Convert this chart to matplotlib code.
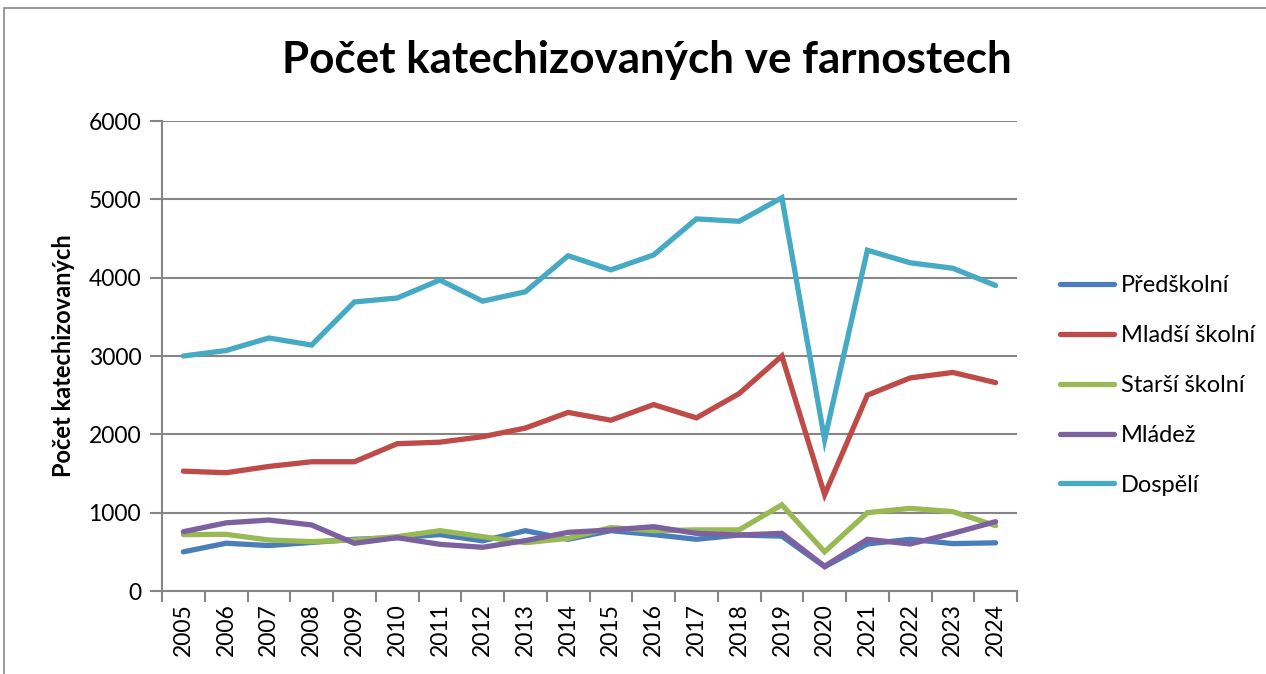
import matplotlib.pyplot as plt
from matplotlib.patches import Rectangle

years = [str(y) for y in range(2005, 2025)]
predskolni = [500, 610, 580, 620, 660, 680, 720, 640, 770, 660,
              770, 720, 660, 715, 700, 310, 600, 660, 605, 615]
mladsi_skolni = [1530, 1510, 1590, 1650, 1650, 1880, 1900, 1970, 2080, 2280,
                 2180, 2380, 2210, 2520, 3000, 1230, 2500, 2720, 2790, 2660]
starsi_skolni = [720, 723, 651, 630, 651, 694, 770, 694, 617, 672,
                 810, 770, 780, 780, 1100, 500, 1000, 1055, 1013, 834]
mladez = [757, 870, 906, 843, 609, 681, 596, 558, 643, 749,
          779, 821, 736, 715, 736, 315, 660, 600, 736, 885]
dospeli = [3000, 3070, 3230, 3140, 3690, 3740, 3970, 3700, 3820, 4280,
           4100, 4290, 4750, 4720, 5020, 1930, 4350, 4190, 4120, 3900]

series = [
    ("Předškolní", predskolni, "#4A7EBB"),
    ("Mladší školní", mladsi_skolni, "#BE4B48"),
    ("Starší školní", starsi_skolni, "#98B954"),
    ("Mládež", mladez, "#7D60A0"),
    ("Dospělí", dospeli, "#46AAC5"),
]

plt.rcParams['font.family'] = ['Lato', 'DejaVu Sans']

fig = plt.figure(figsize=(12.66, 6.74), dpi=100)
# outer chart frame (only left and top edges visible in the crop)
fig.patches.append(Rectangle((4 / 1266, -0.1), 1.2, 1.1 - 8 / 674,
                             transform=fig.transFigure, fill=False,
                             edgecolor="#878787", linewidth=1.2))
ax = fig.add_axes([162 / 1266, 1 - 591 / 674, 855 / 1266, 470 / 674])

x = list(range(len(years)))
for name, vals, color in series:
    ax.plot(x, vals, color=color, linewidth=3.8, label=name,
            solid_capstyle="round", solid_joinstyle="miter")

ax.set_xlim(-0.5, len(years) - 0.5)
ax.set_ylim(0, 6000)
ax.set_yticks(range(0, 6001, 1000))
ax.yaxis.grid(True, color="#868686", linewidth=1.5)
ax.set_axisbelow(True)
ax.set_xticks(x)
ax.set_xticklabels(years, rotation=90, fontsize=16.5)
ax.set_xticks([i - 0.5 for i in range(len(years) + 1)], minor=True)
ax.tick_params(axis="x", which="major", length=0, pad=9)
ax.tick_params(axis="x", which="minor", length=8, width=1.5, color="#868686")
ax.tick_params(axis="y", length=9, width=1.5, color="#868686", labelsize=16.5, pad=6)
for s in ["top", "right"]:
    ax.spines[s].set_visible(False)
for s in ["left", "bottom"]:
    ax.spines[s].set_color("#868686")
    ax.spines[s].set_linewidth(1.5)

ax.set_ylabel("Počet katechizovaných", fontsize=17, fontweight="bold", labelpad=10)
fig.text(647 / 1266, 1 - 60 / 674, "Počet katechizovaných ve farnostech",
         ha="center", va="center", fontsize=31.7, fontweight="bold")

ax.legend(loc="center left", bbox_to_anchor=(1.025, 0.437), frameon=False,
          fontsize=17, handlelength=2.3, handletextpad=0.3, labelspacing=1.22)

fig.savefig("out.png", dpi=100)
